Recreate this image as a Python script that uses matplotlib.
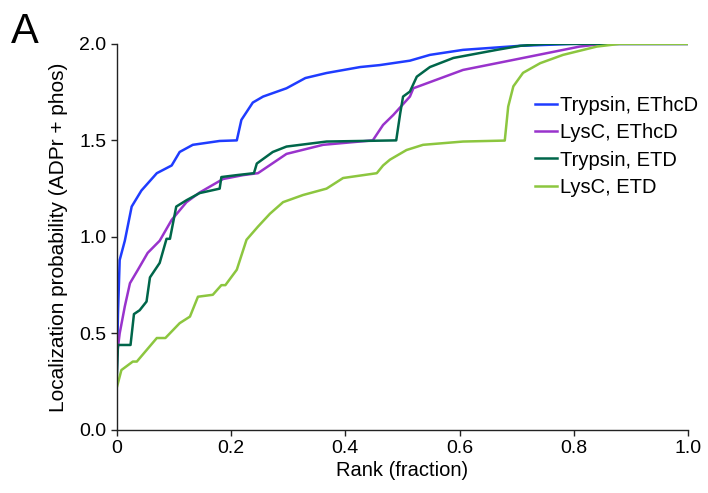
import numpy as np
import matplotlib.pyplot as plt

plt.rcParams['font.family'] = ['Liberation Sans', 'DejaVu Sans']

# Trypsin, EThcD
tryp_ethcd_x = [0, 0.002, 0.005, 0.014, 0.026, 0.043, 0.07, 0.096, 0.11, 0.133, 0.18, 0.21,
                0.218, 0.238, 0.256, 0.297, 0.33, 0.367, 0.426, 0.46, 0.513, 0.548, 0.606,
                0.706, 0.8, 1.0]
tryp_ethcd_y = [0.3, 0.6, 0.88, 0.98, 1.157, 1.24, 1.33, 1.37, 1.44, 1.477, 1.497, 1.5,
                1.606, 1.696, 1.727, 1.77, 1.823, 1.849, 1.88, 1.89, 1.913, 1.943, 1.969,
                1.99, 2.0, 2.0]

# LysC, EThcD
lysc_ethcd_x = [0, 0.005, 0.014, 0.023, 0.037, 0.054, 0.075, 0.096, 0.122, 0.145, 0.186,
                0.221, 0.247, 0.297, 0.361, 0.448, 0.466, 0.484, 0.513, 0.519, 0.606,
                0.694, 0.81, 0.85, 1.0]
lysc_ethcd_y = [0.38, 0.5, 0.64, 0.76, 0.83, 0.917, 0.98, 1.088, 1.18, 1.23, 1.30,
                1.32, 1.33, 1.43, 1.477, 1.50, 1.58, 1.632, 1.727, 1.77, 1.865,
                1.917, 1.986, 2.0, 2.0]

# Trypsin, ETD
tryp_etd_x = [0, 0.002, 0.024, 0.03, 0.04, 0.052, 0.058, 0.075, 0.087, 0.093, 0.104, 0.122,
              0.145, 0.18, 0.183, 0.21, 0.24, 0.245, 0.273, 0.297, 0.367, 0.489, 0.496,
              0.501, 0.513, 0.525, 0.548, 0.589, 0.665, 0.706, 0.75, 1.0]
tryp_etd_y = [0.27, 0.44, 0.44, 0.6, 0.62, 0.665, 0.79, 0.865, 0.99, 0.99, 1.157, 1.19,
              1.227, 1.25, 1.31, 1.32, 1.33, 1.38, 1.44, 1.468, 1.494, 1.5, 1.64,
              1.727, 1.753, 1.83, 1.88, 1.927, 1.969, 1.99, 2.0, 2.0]

# LysC, ETD
lysc_etd_x = [0, 0.008, 0.028, 0.035, 0.07, 0.085, 0.11, 0.128, 0.142, 0.168, 0.183, 0.19,
              0.21, 0.227, 0.247, 0.268, 0.291, 0.326, 0.367, 0.396, 0.455, 0.466, 0.478,
              0.507, 0.536, 0.606, 0.679, 0.685, 0.694, 0.711, 0.741, 0.781, 0.84, 0.88, 1.0]
lysc_etd_y = [0.22, 0.31, 0.354, 0.354, 0.476, 0.476, 0.553, 0.587, 0.69, 0.70, 0.75, 0.75,
              0.83, 0.985, 1.053, 1.12, 1.18, 1.217, 1.25, 1.305, 1.33, 1.37, 1.40,
              1.45, 1.477, 1.494, 1.499, 1.675, 1.78, 1.85, 1.90, 1.943, 1.986, 2.0, 2.0]

labels = ['Trypsin, EThcD', 'LysC, EThcD', 'Trypsin, ETD', 'LysC, ETD']
colors = ['#1f3cff', '#9933cc', '#00664a', '#8cc63f']
xtick_labels = ['0', '0.2', '0.4', '0.6', '0.8', '1.0']

fig = plt.figure(figsize=(7.08, 4.93), dpi=100)
ax = fig.add_axes([0.165, 0.128, 0.807, 0.783])

series = [(tryp_ethcd_x, tryp_ethcd_y), (lysc_ethcd_x, lysc_ethcd_y),
          (tryp_etd_x, tryp_etd_y), (lysc_etd_x, lysc_etd_y)]
for (x, y), lab, c in zip(series, labels, colors):
    ax.plot(x, y, color=c, lw=1.8, label=lab)

ax.set_xlim(0, 1.0)
ax.set_ylim(0, 2.0)
ax.set_xticks(np.arange(0, 1.01, 0.2))
ax.set_xticklabels(xtick_labels)
ax.set_yticks(np.arange(0, 2.01, 0.5))
ax.yaxis.set_major_formatter(plt.FormatStrFormatter('%.1f'))
for s in ['top', 'right']:
    ax.spines[s].set_visible(False)
for s in ['left', 'bottom']:
    ax.spines[s].set_linewidth(1.0)
    ax.spines[s].set_color('#222222')
ax.tick_params(labelsize=14, length=4, width=1.0, colors='#222222', labelcolor='black')
ax.set_xlabel('Rank (fraction)', fontsize=14.5, labelpad=3)
ax.set_ylabel('Localization probability (ADPr + phos)', fontsize=15, labelpad=8)

ax.legend(loc='upper left', bbox_to_anchor=(0.732, 0.866), frameon=False, fontsize=14.5,
          handlelength=1.1, handletextpad=0.15, labelspacing=0.42, borderaxespad=0,
          borderpad=0)

fig.text(0.016, 0.912, 'A', fontsize=30)

fig.savefig('out.png', dpi=100)
